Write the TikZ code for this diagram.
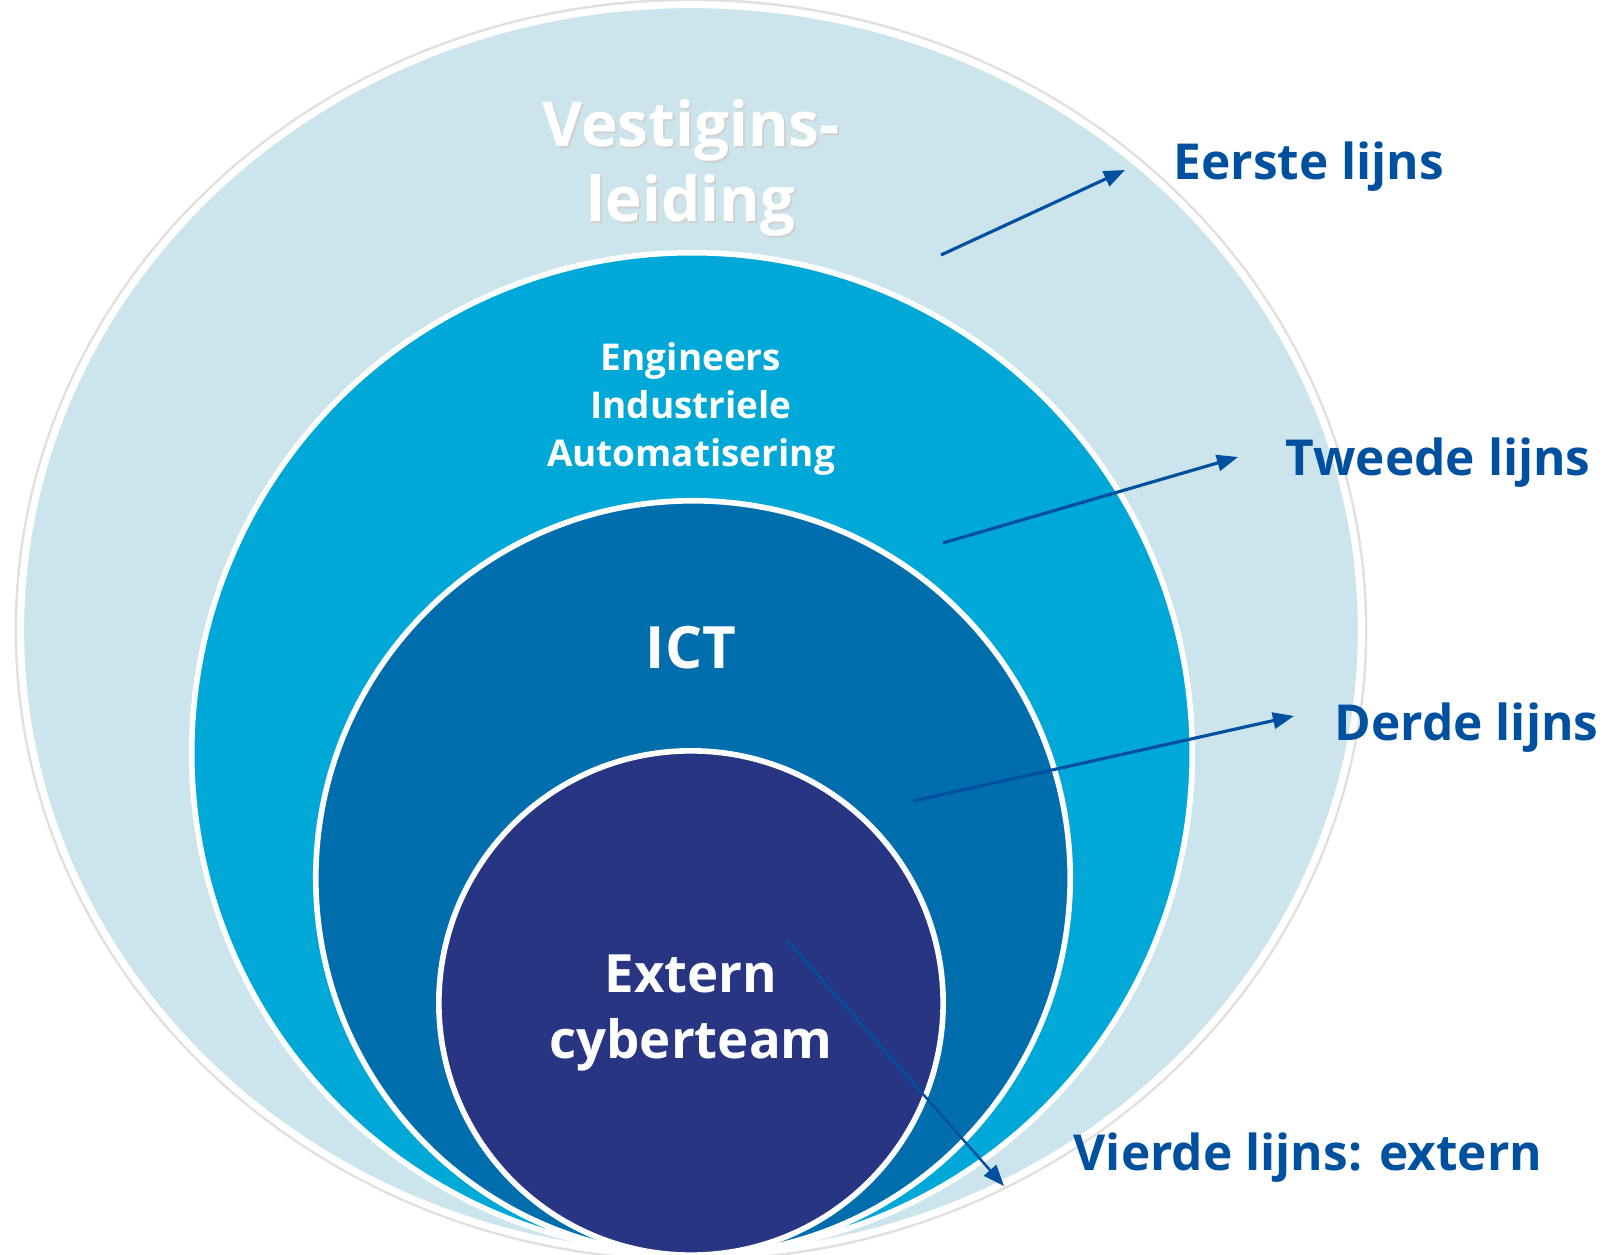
\documentclass[tikz,border=0pt]{standalone}
\usepackage{fontspec}
\setmainfont{Open Sans}
\usepackage{tikz}
\usetikzlibrary{arrows.meta,positioning,shapes.geometric}

\definecolor{paleblue}{RGB}{204,228,236}
\definecolor{cyanblue}{RGB}{0,168,216}
\definecolor{ictblue}{RGB}{0,110,173}
\definecolor{navyblue}{RGB}{40,53,131}
\definecolor{lijnblue}{RGB}{0,80,160}

\begin{document}
\begin{tikzpicture}[
    x=0.01cm, y=-0.01cm,
    ring/.style={circle, draw=white, line width=1.6pt, inner sep=0pt},
    whitetxt/.style={text=white, align=center, font=\bfseries},
    lijn/.style={text=lijnblue, anchor=base west, inner sep=0pt,
                 font=\fontsize{14.1pt}{17pt}\selectfont\bfseries},
    arr/.style={-{Triangle[length=6pt,width=4.6pt]}, line width=0.9pt, lijnblue}
]
\useasboundingbox (0,0) rectangle (1614,1255);

% ---- Rings, outside in ----
\node[ellipse, draw=white, line width=2pt, fill=paleblue, inner sep=0pt,
      minimum width=13.4cm, minimum height=12.5cm,
      preaction={draw=black!12, line width=3.4pt}] (vestiging) at (691,630) {};
\node[ring, fill=cyanblue, minimum size=10cm] (engineers) at (692,753) {};
\node[ring, fill=ictblue, minimum size=7.54cm] (ict) at (693,878) {};
\node[ring, fill=navyblue, minimum size=5.04cm] (extern) at (691,1003) {};

% ---- Ring texts ----
\node[whitetxt, text=black!18, font=\fontsize{17.6pt}{21.3pt}\selectfont\bfseries]
    (vestShadow) at (693,170) {Vestigins-\\leiding};
\node[whitetxt, font=\fontsize{17.6pt}{21.3pt}\selectfont\bfseries]
    (vestTxt) at (691,168) {Vestigins-\\leiding};
\node[whitetxt, font=\fontsize{10.5pt}{13.7pt}\selectfont\bfseries]
    (engTxt) at (691,409) {Engineers\\Industriele\\Automatisering};
\node[whitetxt, font=\fontsize{16.6pt}{20pt}\selectfont\bfseries]
    (ictTxt) at (691,648) {ICT};
\node[whitetxt, font=\fontsize{15pt}{19pt}\selectfont\bfseries]
    (extTxt) at (691,1013) {Extern\\cyberteam};

% ---- Line labels ----
\node[lijn] (eerste) at (1173,180) {Eerste lijns};
\node[lijn] (tweede) at (1285,476) {Tweede lijns};
\node[lijn] (derde) at (1334,741) {Derde lijns};
\node[lijn] (vierde) at (1073,1171) {Vierde lijns: extern};

% ---- Arrows ----
\coordinate (eersteFrom) at (941,255);
\coordinate (eersteTo) at (1125,170);
\coordinate (tweedeFrom) at (943,543);
\coordinate (tweedeTo) at (1238,457);
\coordinate (derdeFrom) at (913,801);
\coordinate (derdeTo) at (1294,716);
\coordinate (vierdeFrom) at (787,940);
\coordinate (vierdeTo) at (1004,1186);
\draw[arr] (eersteFrom) -- (eersteTo);
\draw[arr] (tweedeFrom) -- (tweedeTo);
\draw[arr] (derdeFrom) -- (derdeTo);
\draw[arr, line width=0.7pt] (vierdeFrom) -- (vierdeTo);

\end{tikzpicture}
\end{document}
